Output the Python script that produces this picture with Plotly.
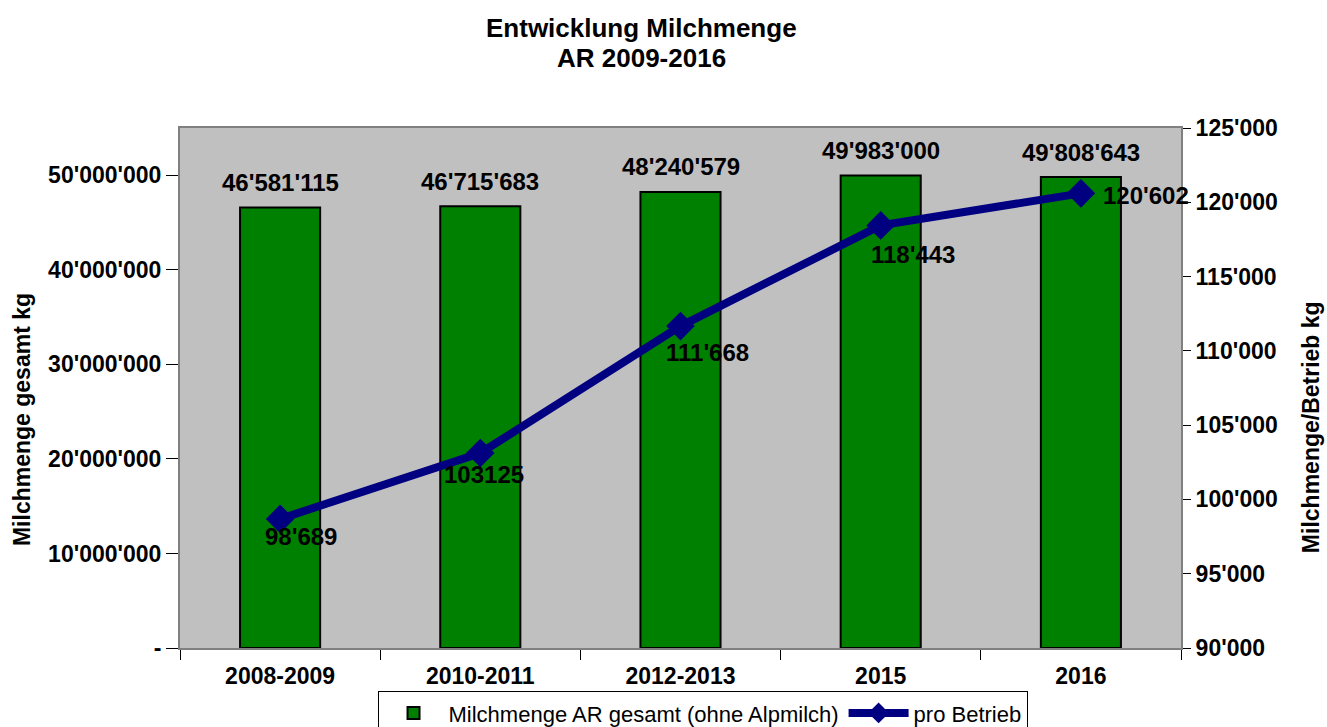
import plotly.graph_objects as go

categories = ["2008-2009", "2010-2011", "2012-2013", "2015", "2016"]
total_milk = [46581115, 46715683, 48240579, 49983000, 49808643]
per_farm = [98689, 103125, 111668, 118443, 120602]
per_farm_labels = ["98'689", "103125", "111'668", "118'443", "120'602"]

left_tickvals = [0, 10000000, 20000000, 30000000, 40000000, 50000000]
left_ticktext = ["-", "10'000'000", "20'000'000", "30'000'000", "40'000'000", "50'000'000"]
right_tickvals = [90000, 95000, 100000, 105000, 110000, 115000, 120000, 125000]
right_ticktext = ["90'000", "95'000", "100'000", "105'000", "110'000", "115'000", "120'000", "125'000"]

FONT = "Liberation Sans, Arial, sans-serif"

def fmt(v):
    return f"{v:,}".replace(",", "'")

xpos = list(range(len(categories)))
boundaries = [i - 0.5 for i in range(len(categories) + 1)]

fig = go.Figure()
fig.add_trace(go.Bar(
    x=xpos, y=total_milk, name="Milchmenge AR gesamt (ohne Alpmilch)",
    marker=dict(color="#008000", line=dict(color="black", width=2)),
    width=0.4, yaxis="y", hoverinfo="skip",
))
fig.add_trace(go.Scatter(
    x=xpos, y=per_farm, name="pro Betrieb", mode="lines+markers",
    line=dict(color="#000080", width=8),
    marker=dict(symbol="diamond", size=22, color="#000080"),
    yaxis="y2", hoverinfo="skip",
))

annotations = []
for i, v in zip(xpos, total_milk):
    annotations.append(dict(
        x=i, y=v, xref="x", yref="y", text=fmt(v), showarrow=False,
        yanchor="middle", yshift=25,
        font=dict(family=FONT, size=24, color="black", weight="bold"),
    ))
line_shifts = [(21, -18), (4, -21), (27, -26), (32, -29), (65, -2)]
for i, v, t, (dx, dy) in zip(xpos, per_farm, per_farm_labels, line_shifts):
    annotations.append(dict(
        x=i, y=v, xref="x", yref="y2", text=t, showarrow=False,
        xanchor="center", yanchor="middle", xshift=dx, yshift=dy,
        font=dict(family=FONT, size=24, color="black", weight="bold"),
    ))
annotations.append(dict(
    x=-0.158, y=0.44, xref="paper", yref="paper", text="Milchmenge gesamt kg",
    textangle=-90, showarrow=False, xanchor="center", yanchor="middle",
    font=dict(family=FONT, size=23, color="black", weight="bold"),
))
annotations.append(dict(
    x=1.13, y=0.425, xref="paper", yref="paper", text="Milchmenge/Betrieb kg",
    textangle=-90, showarrow=False, xanchor="center", yanchor="middle",
    font=dict(family=FONT, size=23, color="black", weight="bold"),
))
annotations.append(dict(
    x=0.4615, y=1.192, xref="paper", yref="paper", text="Entwicklung Milchmenge",
    showarrow=False, xanchor="center", yanchor="middle",
    font=dict(family=FONT, size=26, color="black", weight="bold"),
))
annotations.append(dict(
    x=0.4615, y=1.135, xref="paper", yref="paper", text="AR 2009-2016",
    showarrow=False, xanchor="center", yanchor="middle",
    font=dict(family=FONT, size=26, color="black", weight="bold"),
))

fig.update_layout(
    width=1327, height=727,
    paper_bgcolor="white", plot_bgcolor="#C0C0C0",
    margin=dict(l=180, r=146, t=128, b=79, autoexpand=False),
    font=dict(family=FONT, color="black"),
    xaxis=dict(
        range=[-0.5, 4.5], tickvals=xpos, ticktext=categories,
        showgrid=False, zeroline=False, ticks="", automargin=False,
        showline=True, linecolor="#808080", linewidth=2, mirror=True,
        tickfont=dict(family=FONT, size=23, color="black", weight="bold"),
        tickangle=0, ticklabelstandoff=6,
        minor=dict(tickvals=boundaries, ticks="outside", ticklen=10,
                   tickcolor="black", showgrid=False),
    ),
    yaxis=dict(
        range=[0, 55000000], tickvals=left_tickvals, ticktext=left_ticktext,
        showgrid=False, zeroline=False, ticks="outside", ticklen=12,
        tickcolor="black", showline=True, linecolor="#808080", linewidth=2,
        automargin=False,
        tickfont=dict(family=FONT, size=23, color="black", weight="bold"),
    ),
    yaxis2=dict(
        range=[90000, 125000], tickvals=right_tickvals, ticktext=right_ticktext,
        overlaying="y", side="right", showgrid=False, zeroline=False,
        ticks="outside", ticklen=8, tickcolor="black", showline=True,
        linecolor="#808080", linewidth=2, automargin=False,
        tickfont=dict(family=FONT, size=23, color="black", weight="bold"),
    ),
    legend=dict(
        orientation="h", x=0.522, xanchor="center", y=-0.083, yanchor="top",
        bgcolor="white", bordercolor="black", borderwidth=1,
        font=dict(family=FONT, size=22, color="black"),
        itemwidth=60, traceorder="normal",
    ),
    annotations=annotations,
    showlegend=True,
)

fig.write_html("out.html", config={"displayModeBar": False},
               post_script="document.body.style.margin='0';document.body.style.overflow='hidden';")
